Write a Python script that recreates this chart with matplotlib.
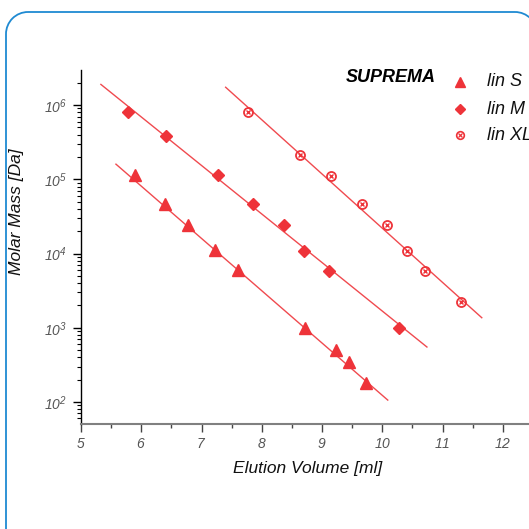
import numpy as np
import matplotlib
matplotlib.use("Agg")
import matplotlib.pyplot as plt
from matplotlib.patches import Arc
from matplotlib.ticker import FixedLocator, LogLocator, FuncFormatter, NullFormatter

plt.rcParams['font.family'] = ['Liberation Sans', 'DejaVu Sans']
plt.rcParams['mathtext.fontset'] = 'custom'
plt.rcParams['mathtext.rm'] = 'Liberation Sans:italic'
plt.rcParams['mathtext.it'] = 'Liberation Sans:italic'

# ---- data ----
s_vol = [5.90, 6.39, 6.77, 7.22, 7.60, 8.71, 9.23, 9.44, 9.73]
s_mass = [1.13e5, 4.7e4, 2.4e4, 1.1e4, 6.0e3, 1.0e3, 500, 350, 180]
m_vol = [5.78, 6.41, 7.27, 7.85, 8.37, 8.70, 9.11, 10.27]
m_mass = [8.0e5, 3.8e5, 1.13e5, 4.7e4, 2.4e4, 1.07e4, 5.9e3, 1.0e3]
xl_vol = [7.77, 8.63, 9.15, 9.66, 10.07, 10.41, 10.70, 11.30]
xl_mass = [8.0e5, 2.1e5, 1.1e5, 4.7e4, 2.4e4, 1.07e4, 5.9e3, 2.2e3]

s_fit_vol = [5.58, 10.09]
s_fit_mass = [1.6e5, 106]
m_fit_vol = [5.33, 10.74]
m_fit_mass = [1.9e6, 550]
xl_fit_vol = [7.40, 11.65]
xl_fit_mass = [1.74e6, 1365]

series_names = ['lin S', 'lin M', 'lin XL']
x_ticks = [5, 6, 7, 8, 9, 10, 11, 12]
y_ticks = [1e2, 1e3, 1e4, 1e5, 1e6]

RED = '#ee3339'
LINE = '#f04a4f'
BLUE = '#1f8ad2'

W = 529.0
fig = plt.figure(figsize=(5.29, 5.29), dpi=100)

# overlay axes in pixel coordinates (for frame and legend)
ov = fig.add_axes([0, 0, 1, 1], facecolor='none', zorder=5)
ov.set_xlim(0, W)
ov.set_ylim(W, 0)
ov.axis('off')

# rounded frame: left edge, top edge, two top corners
L, T, R, r = 6, 12, 537, 22
ov.plot([L, L], [T + r, 600], color=BLUE, lw=1.3, clip_on=False, solid_capstyle='butt')
ov.plot([L + r, R - r], [T, T], color=BLUE, lw=1.3, clip_on=False, solid_capstyle='butt')
ov.add_patch(Arc((L + r, T + r), 2 * r, 2 * r, theta1=180, theta2=270,
                 color=BLUE, lw=1.3, clip_on=False))
ov.add_patch(Arc((R - r, T + r), 2 * r, 2 * r, theta1=270, theta2=360,
                 color=BLUE, lw=1.3, clip_on=False))

ax = fig.add_axes([81 / W, (529 - 424) / W, (533 - 81) / W, (424 - 70) / W])
ax.set_yscale('log')
ax.set_xlim(5, 12.5)
ax.set_ylim(10 ** 1.703, 10 ** 6.473)

ax.plot(s_fit_vol, s_fit_mass, color=LINE, lw=1.0)
ax.plot(m_fit_vol, m_fit_mass, color=LINE, lw=1.0)
ax.plot(xl_fit_vol, xl_fit_mass, color=LINE, lw=1.0)

ax.plot(s_vol, s_mass, '^', color=RED, ms=8.5, mec=RED)
ax.plot(m_vol, m_mass, 'D', color=RED, ms=6.5, mec=RED)
ax.plot(xl_vol, xl_mass, 'o', mfc='none', mec=RED, ms=6.5, mew=1.3)
ax.plot(xl_vol, xl_mass, 'x', color=RED, ms=3.2, mew=1.0)

for sp in ['top', 'right']:
    ax.spines[sp].set_visible(False)
ax.spines['left'].set_color('black')
ax.spines['left'].set_linewidth(1.0)
ax.spines['bottom'].set_color('#808080')
ax.spines['bottom'].set_linewidth(1.5)

ax.xaxis.set_major_locator(FixedLocator(x_ticks))
ax.xaxis.set_minor_locator(FixedLocator([v + 0.5 for v in x_ticks]))
ax.xaxis.set_major_formatter(FuncFormatter(lambda v, p: r'$%d$' % v))
ax.yaxis.set_major_locator(FixedLocator(y_ticks))
ax.yaxis.set_minor_locator(LogLocator(base=10, subs=np.arange(2, 10), numticks=20))
ax.yaxis.set_minor_formatter(NullFormatter())
ax.yaxis.set_major_formatter(FuncFormatter(lambda v, p: r'$10^{%d}$' % round(np.log10(v))))

ax.tick_params(axis='x', which='major', direction='out', length=6, width=1.0,
               color='#444444', labelsize=10, labelcolor='#555555', pad=3)
ax.tick_params(axis='x', which='minor', direction='out', length=3, width=1.0, color='#444444')
ax.tick_params(axis='y', which='major', direction='out', length=6, width=1.0,
               color='black', labelsize=10, labelcolor='#555555', pad=4)
ax.tick_params(axis='y', which='minor', direction='out', length=3, width=0.8, color='black')

ov.text(308, 468, 'Elution Volume [ml]', ha='center', va='center',
        fontsize=12.5, style='italic', color='#111111')
ov.text(17, 212, 'Molar Mass [Da]', ha='center', va='center',
        fontsize=12.5, style='italic', rotation=90, color='#111111')

# legend
ov.text(346, 77, 'SUPREMA', ha='left', va='center', fontsize=13,
        style='italic', weight='bold', color='black')
leg_y = [82, 109, 135]
ov.plot([460], [leg_y[0]], '^', color=RED, ms=7)
ov.plot([460], [leg_y[1]], 'D', color=RED, ms=5.5)
ov.plot([460], [leg_y[2]], 'o', mfc='none', mec=RED, ms=5.5, mew=1.2)
ov.plot([460], [leg_y[2]], 'x', color=RED, ms=2.8, mew=0.9)
for name, yy in zip(series_names, leg_y):
    ov.text(487, yy, name, ha='left', va='center', fontsize=13,
            style='italic', color='#111111')

fig.savefig('out.png', dpi=100)
